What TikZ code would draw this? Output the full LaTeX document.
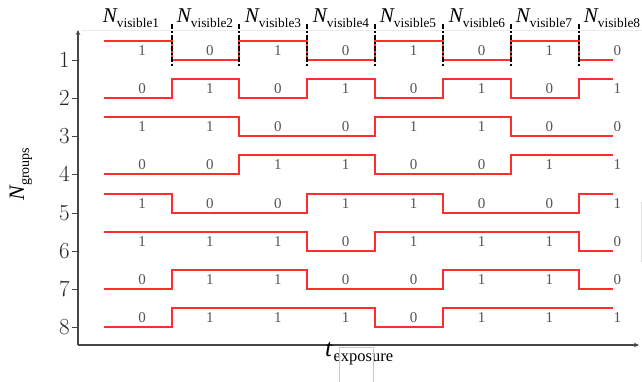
\documentclass[tikz,border=0pt]{standalone}
\usepackage{fontspec}
\setmainfont{Liberation Serif}
\newfontfamily\lmnum{Latin Modern Roman}
\usetikzlibrary{arrows.meta}

\definecolor{sigred}{RGB}{255,45,45}
\definecolor{axisgray}{RGB}{70,70,70}
\definecolor{bitgray}{RGB}{85,85,85}

% symbol with a roman subscript
\newcommand\symsub[4]{{\fontsize{#3}{#3}\selectfont\itshape #1}\raisebox{-5pt}{\fontsize{#4}{#4}\selectfont #2}}

% one group row: #1 = row number, #2 = first bit, #3 = all eight bits
\newcommand\sigrow[3]{%
  \pgfmathsetmacro\rowy{round(60+(#1-1)*38.14)}%
  \draw[sig] (104,{\rowy-19*#2})
    \foreach \b [count=\i] in {#3} {
      -- ({round(103.6+67.9*(\i-1))},{\rowy-19*\b})
      -- ({min(round(103.6+67.9*\i),613)},{\rowy-19*\b})
    };
  \foreach \b [count=\i] in {#3}
    \node[bit] (d-#1-\i) at ({142+67.9*(\i-1)},{\rowy-9.5}) {\b};
}

\begin{document}
\begin{tikzpicture}[x=1pt,y=-1pt,
  sig/.style={draw=sigred,line width=2pt,line join=miter},
  bit/.style={inner sep=0pt,text=bitgray,font=\fontsize{15}{15}\selectfont},
  ticklab/.style={anchor=east,inner sep=0pt,text=black!85,font=\lmnum\fontsize{23}{23}\selectfont},
  axisline/.style={draw=axisgray,line width=1.1pt},
  divider/.style={draw=black,line width=1.8pt,dash pattern=on 5pt off 2pt on 2pt off 2pt},
  hdr/.style={anchor=base,inner sep=0pt}]

\useasboundingbox (0,0) rectangle (642,381);
\fill[white] (0,0) rectangle (642,381);

% faint frame remnants
\draw[black!8,line width=0.6pt] (82,30) -- (642,30);
\draw[black!12,line width=0.6pt] (641,202) -- (641,262);

% axes
\coordinate (o) at (78,345);
\coordinate (ytop) at (78,30);
\coordinate (xend) at (639,345);
\draw[axisline,-{Stealth[length=5pt,width=4.5pt]}] (o) -- (ytop);
\draw[axisline,-{Stealth[length=5pt,width=4.5pt]}] (o) -- (xend);

% ticks and their labels
\foreach \k in {1,...,8} {
  \pgfmathsetmacro\ty{round(60+(\k-1)*38.14)}
  \draw[axisline,line width=0.9pt] (72,\ty) -- (78,\ty);
  \node[ticklab] (tick\k) at (70,\ty) {\k};
}

% signal rows
\sigrow{1}{1}{1,0,1,0,1,0,1,0}
\sigrow{2}{0}{0,1,0,1,0,1,0,1}
\sigrow{3}{1}{1,1,0,0,1,1,0,0}
\sigrow{4}{0}{0,0,1,1,0,0,1,1}
\sigrow{5}{1}{1,0,0,1,1,0,0,1}
\sigrow{6}{1}{1,1,1,0,1,1,1,0}
\sigrow{7}{0}{0,1,1,0,0,1,1,0}
\sigrow{8}{0}{0,1,1,1,0,1,1,1}

% dividers between the visible windows
\foreach \i in {1,...,7}
  \draw[divider] ({round(103.6+67.9*\i)},24) -- ({round(103.6+67.9*\i)},67);

% window headers
\foreach \i/\cx in {1/131,2/205,3/273,4/341,5/408,6/477,7/544,8/612}
  \node[hdr] (h\i) at (\cx,22) {\symsub{N}{visible\i}{21}{13.3}};

% axis titles
\node[rotate=90,inner sep=0pt] (ylab) at (21,174) {\symsub{N}{groups}{22}{14}};
\node[anchor=base west,inner sep=0pt] (xlab) at (325,356) {\symsub{t}{\kern1.5pt exposure}{25}{16.5}};
\draw[black!22,line width=0.5pt] (339,382) -- (339,347) -- (373,347) -- (373,382);

\end{tikzpicture}
\end{document}
